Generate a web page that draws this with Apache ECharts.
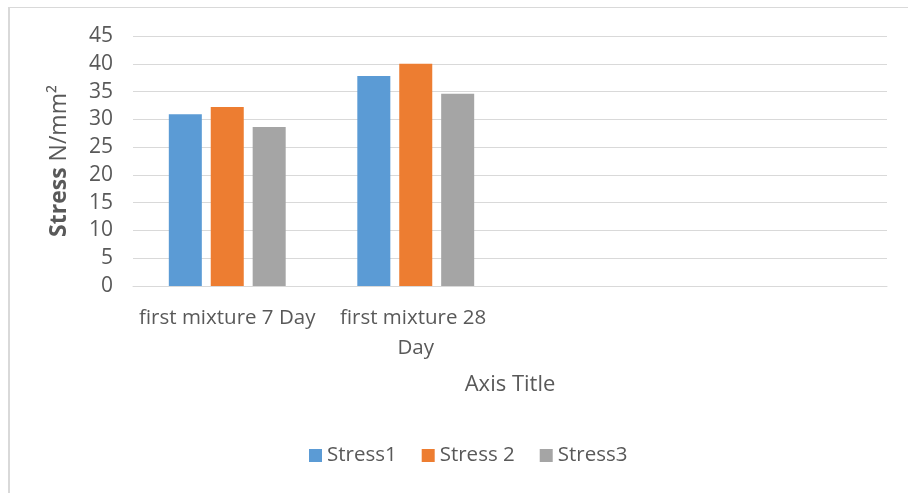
<!DOCTYPE html>
<html>
<head>
<meta charset="utf-8">
<script src="https://cdn.jsdelivr.net/npm/echarts@6/dist/echarts.min.js"></script>
<style>
  html, body { margin: 0; padding: 0; background: #fff; }
  #frame { position: absolute; left: 8px; top: 7px; width: 960px; height: 560px;
           border-top: 1px solid #d9d9d9; border-left: 2px solid #d9d9d9; }
  #main { position: absolute; left: 0; top: 0; width: 908px; height: 493px; }
</style>
</head>
<body>
<div id="frame"></div>
<div id="main"></div>
<script>
var categories = ['first mixture 7 Day', 'first mixture 28 Day', '', ''];
var stress1 = [30.9, 37.8];
var stress2 = [32.2, 40.0];
var stress3 = [28.6, 34.6];
var yTicks = { min: 0, max: 45, interval: 5 };

var txt = '#595959';
var font = 'Open Sans';
var chart = echarts.init(document.getElementById('main'));

function bar(name, data, color) {
  return {
    name: name, type: 'bar', data: data,
    barGap: '27%', barCategoryGap: '38%',
    itemStyle: { color: color }
  };
}

chart.setOption({
  animation: false,
  textStyle: { fontFamily: font, color: txt },
  grid: { left: 133, right: 21, top: 36, bottom: 207, containLabel: false },
  legend: {
    bottom: 22, left: 304,
    itemWidth: 13, itemHeight: 13, itemGap: 25,
    icon: 'rect',
    textStyle: { fontFamily: font, fontSize: 20.5, color: txt },
    data: ['Stress1', 'Stress 2', 'Stress3']
  },
  xAxis: {
    type: 'category', data: categories,
    axisTick: { show: false },
    axisLine: { lineStyle: { color: '#d9d9d9' } },
    axisLabel: { fontFamily: font, fontSize: 20.5, color: txt, margin: 17,
                 width: 177, overflow: 'break', lineHeight: 30, interval: 0 },
    name: 'Axis Title', nameLocation: 'middle', nameGap: 88,
    nameTextStyle: { fontFamily: font, fontSize: 22, color: txt }
  },
  yAxis: {
    type: 'value', min: yTicks.min, max: yTicks.max, interval: yTicks.interval,
    axisLine: { show: false }, axisTick: { show: false },
    axisLabel: { fontFamily: font, fontSize: 21, color: txt, margin: 20 },
    splitLine: { lineStyle: { color: '#d9d9d9', width: 1 } },
    name: '{b|Stress} N/mm\u00B2', nameLocation: 'middle', nameRotate: 90, nameGap: 62,
    nameTextStyle: {
      fontFamily: font, fontSize: 23, color: txt,
      rich: { b: { fontFamily: font, fontSize: 23, fontWeight: 'bold', color: txt } }
    }
  },
  series: [
    bar('Stress1', stress1, '#5B9BD5'),
    bar('Stress 2', stress2, '#ED7D31'),
    bar('Stress3', stress3, '#A5A5A5')
  ]
});
</script>
</body>
</html>
